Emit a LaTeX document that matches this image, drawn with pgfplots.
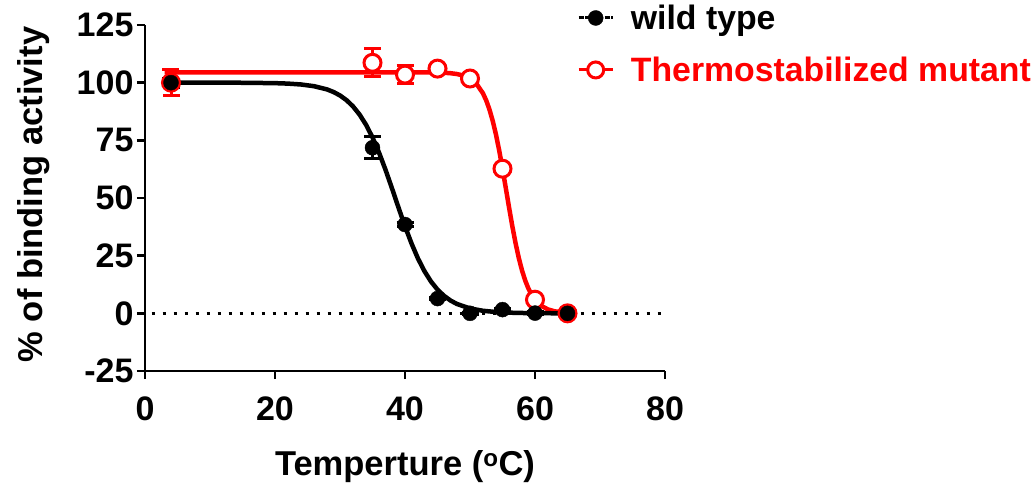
\documentclass[border=0pt]{standalone}
\usepackage{pgfplots}
\pgfplotsset{compat=1.18}
\usepackage{fontspec}
\setmainfont{Liberation Sans}
\begin{document}
\begin{tikzpicture}
\begin{axis}[
  name=ax,
  scale only axis,
  width=520pt, height=346pt,
  xmin=0, xmax=80, ymin=-25, ymax=125,
  xtick={0,20,40,60,80},
  ytick={-25,0,25,50,75,100,125},
  axis lines=left,
  axis line style={-, line width=2.5pt},
  x axis line style={-}, y axis line style={-},
  tick align=outside,
  major tick length=8pt,
  tick style={line width=2.5pt, black},
  /pgf/number format/assume math mode=true,
  ticklabel style={font=\fontsize{34}{38}\selectfont\bfseries},
  xticklabel style={yshift=-14pt},
  xlabel={Temperture (\textsuperscript{o}C)},
  ylabel={\% of binding activity},
  label style={font=\fontsize{34.5}{40}\selectfont\bfseries},
  xlabel style={at={(axis description cs:0.5,-0.275)}, anchor=center},
  ylabel style={at={(axis description cs:-0.215,0.51)}, anchor=center, rotate=0},
  clip=false,
  legend style={at={(axis description cs:0.825,1.07)}, anchor=north west, draw=none, fill=none,
    font=\fontsize{33.8}{38}\selectfont\bfseries, row sep=22pt},
  legend cell align=left,
]
% zero dotted line
\addplot[forget plot, black, line width=3.5pt, dash pattern=on 3.5pt off 7.5pt] coordinates {(1,0) (80,0)};
% red fitted curve
\addplot[forget plot, red, line width=4.5pt] coordinates {
(3,104.5) (10,104.5) (20,104.5) (30,104.5) (40,104.5) (44,104.45) (45,104.39) (46,104.29) (47,104.10) (48,103.74) (49,103.07)
(50,101.80) (51,99.50) (52,95.34) (52.5,92.26) (53,88.31) (53.5,83.39) (54,77.45) (54.5,70.49)
(55,62.72) (55.5,54.44) (56,46.04) (56.5,37.96) (57,30.56) (57.5,24.07) (58,18.61) (58.5,14.18)
(59,10.67) (59.5,7.95) (60,5.88) (61,3.17) (62,1.69) (63,0.89) (64,0.47) (65,0.25)};
% red points
\addplot[forget plot, red, only marks, mark=*, mark size=8.5pt, mark options={line width=3pt, fill=white, draw=red},
  error bars/.cd, y dir=both, y explicit,
  error bar style={line width=3pt, red},
  error mark options={rotate=90, mark size=8.5pt, line width=3pt, red}]
 coordinates {
 (4,100) +- (0,5.5)
 (35,108.6) +- (0,6)
 (40,103.5) +- (0,4)
 (45,106.1) +- (0,1)
 (50,101.8) +- (0,0.8)
 (55,62.7) +- (0,1)
 (60,5.9) +- (0,0.5)
 (65,0) +- (0,0.5)};
% black fitted curve
\addplot[forget plot, black, line width=4.5pt] coordinates {
(4,100) (10,99.99) (15,99.96) (20,99.79) (22,99.59) (24,99.21) (26,98.47) (28,97.07) (29,95.96)
(30,94.45) (31,92.41) (32,89.72) (33,86.21) (34,81.76) (35,76.25) (36,69.70) (37,62.25) (38,54.16)
(39,45.84) (40,37.75) (41,30.29) (42,23.74) (43,18.24) (44,13.78) (45,10.28) (46,7.59) (47,5.56)
(48,4.04) (50,2.12) (52,1.10) (54,0.57) (56,0.29) (58,0.15) (60,0.08) (62,0.04) (65,0.01)};
% black points
\addplot[forget plot, black, only marks, mark=*, mark size=7.5pt,
  error bars/.cd, y dir=both, y explicit,
  error bar style={line width=3pt, black},
  error mark options={rotate=90, mark size=8.5pt, line width=3pt, black}]
 coordinates {
 (4,100) +- (0,2)
 (35,71.8) +- (0,4.8)
 (40,38.5) +- (0,1)
 (45,6.4) +- (0,0.5)
 (50,0) +- (0,0.5)
 (55,1.6) +- (0,0.5)
 (60,0.1) +- (0,0.5)
 (65,0) +- (0,0.5)};
% legend
\addlegendimage{legend image code/.code={
  \draw[black, line width=3pt, dash pattern=on 5pt off 1.5pt] (0pt,0pt) -- (34pt,0pt);
  \fill[black] (17pt,0pt) circle (7.5pt);
  \path (50pt,0pt);}}
\addlegendentry{wild type}
\addlegendimage{legend image code/.code={
  \draw[red, line width=3pt] (0pt,0pt) -- (34pt,0pt);
  \draw[red, line width=3pt, fill=white] (17pt,0pt) circle (8pt);
  \path (50pt,0pt);}}
\addlegendentry{\textcolor{red}{Thermostabilized mutant}}
\end{axis}
\pgfresetboundingbox
\path[use as bounding box] ([xshift=-145pt,yshift=-112pt]ax.south west) rectangle ([xshift=371pt,yshift=25pt]ax.north east);
\end{tikzpicture}
\end{document}
